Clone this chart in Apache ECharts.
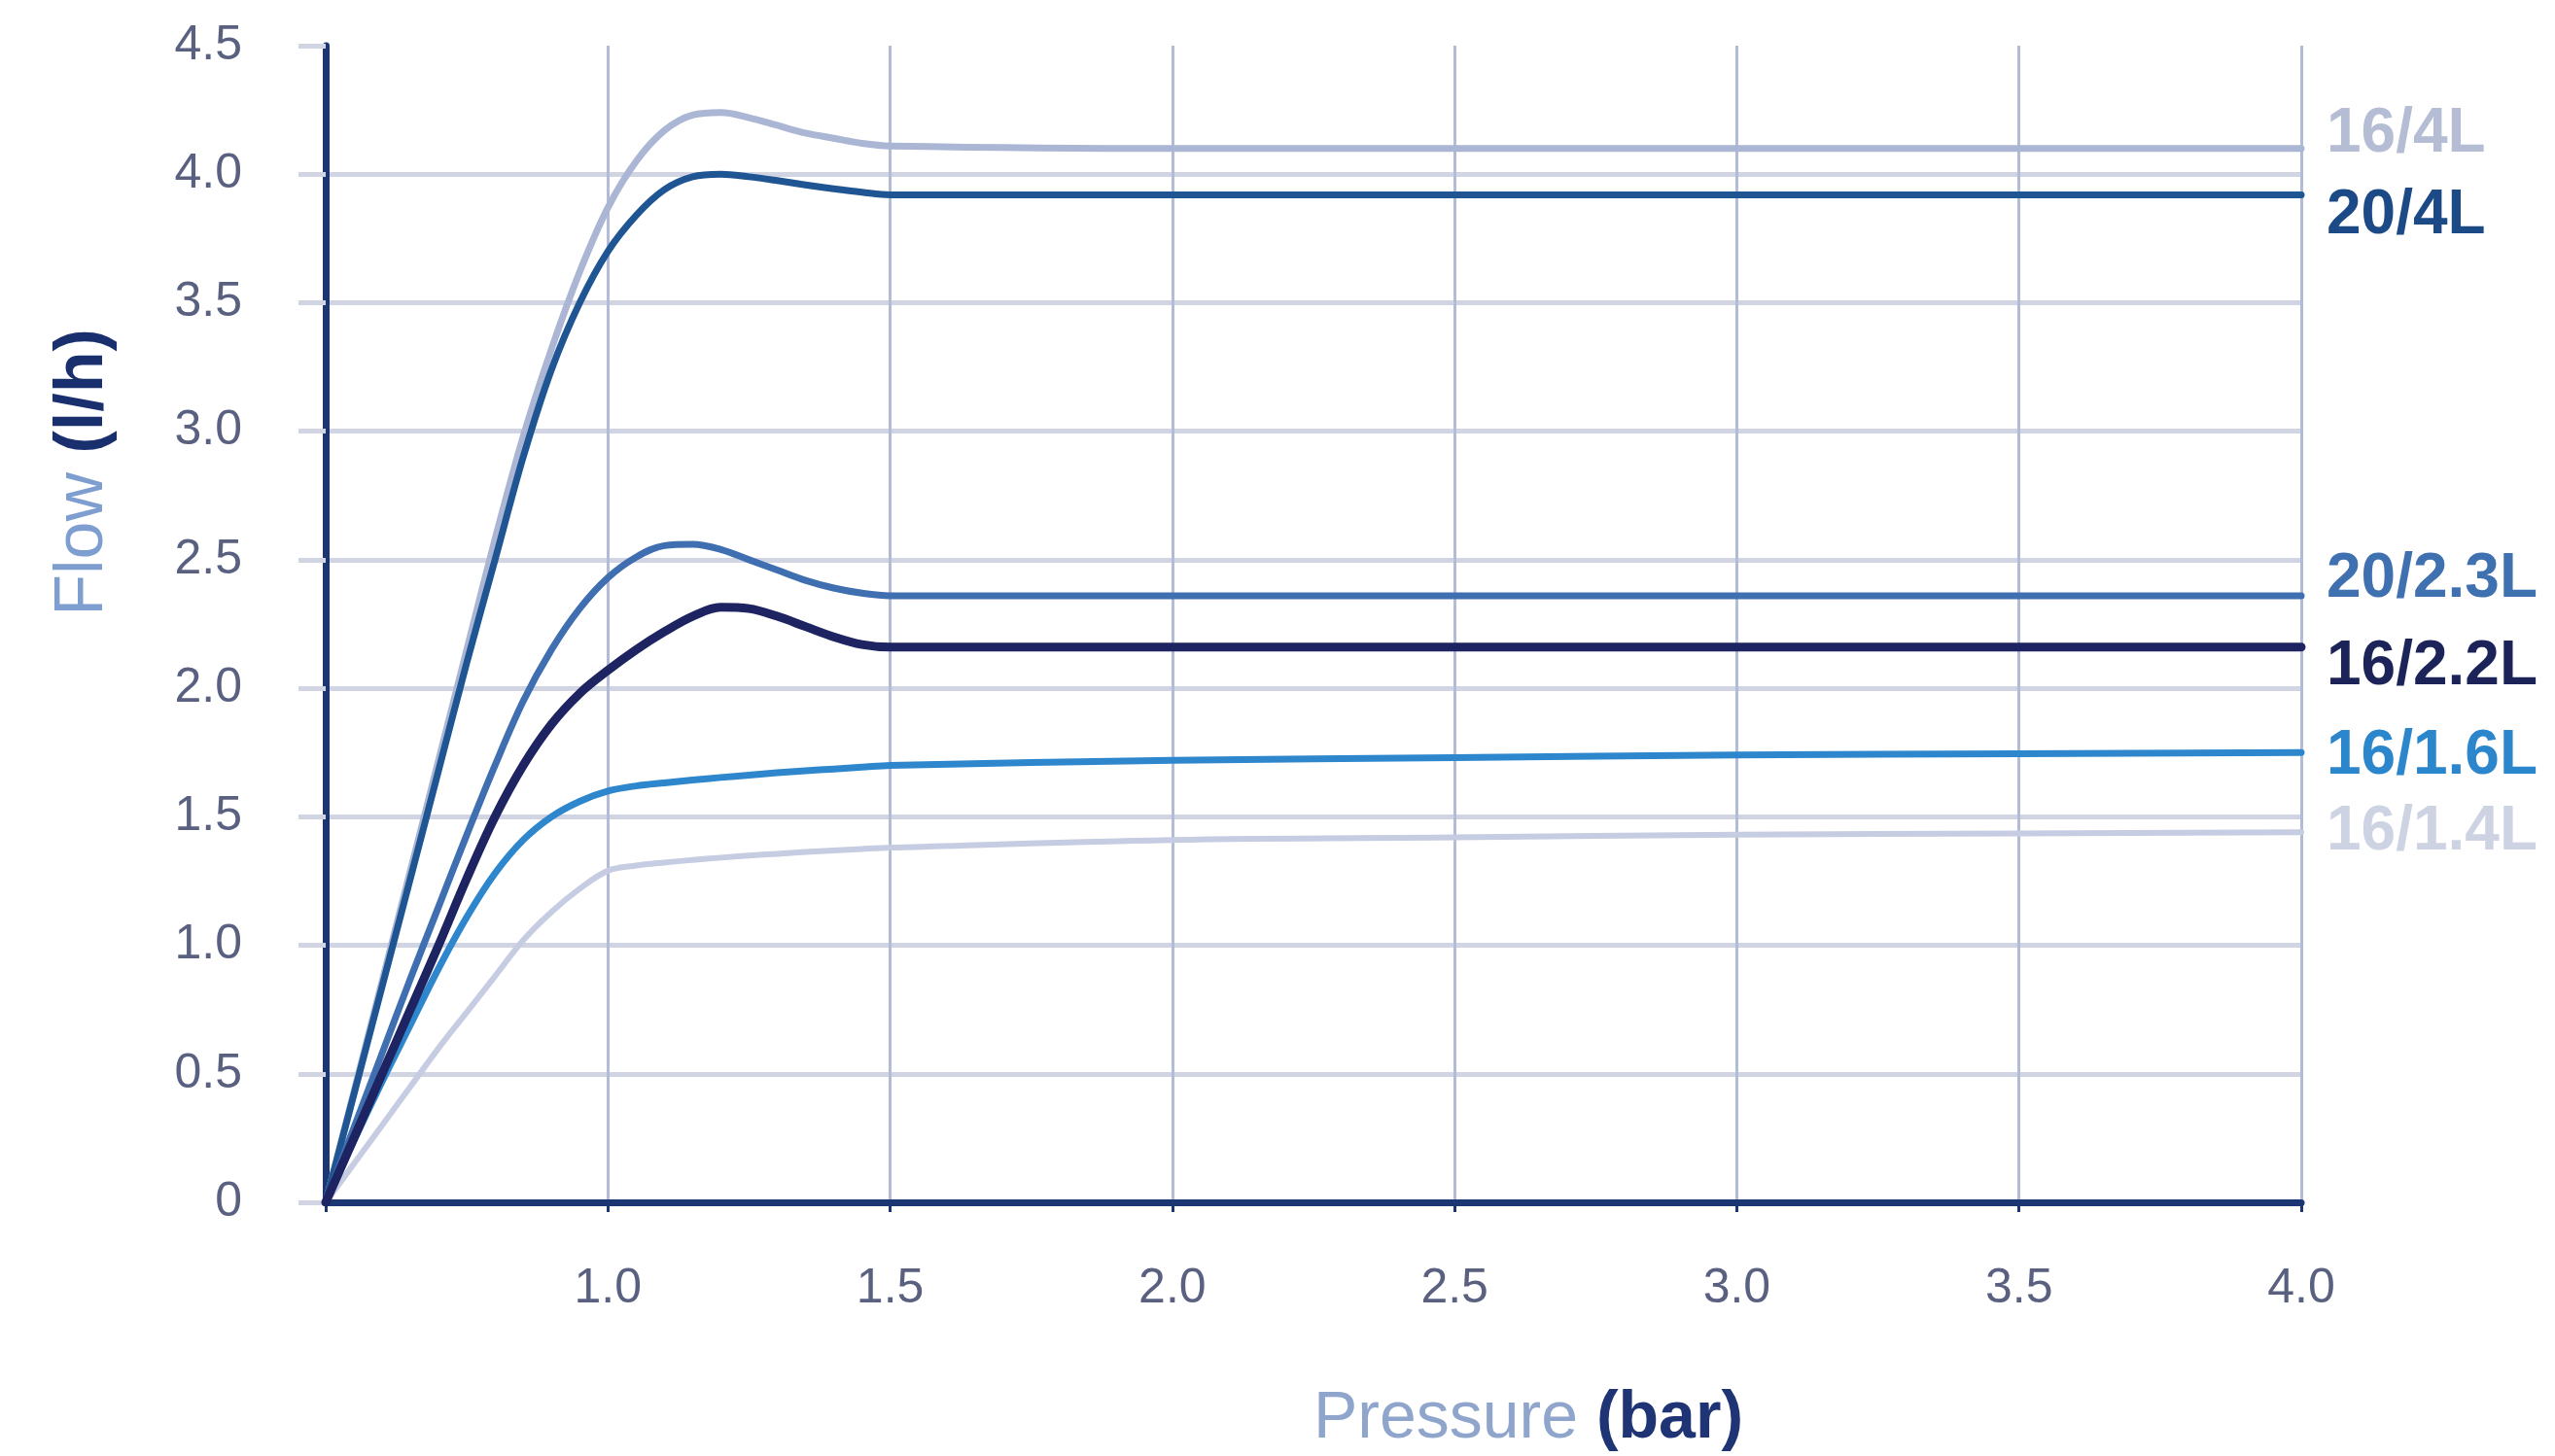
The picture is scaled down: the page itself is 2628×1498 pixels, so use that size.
<!DOCTYPE html>
<html>
<head>
<meta charset="utf-8">
<style>
  html, body { margin: 0; padding: 0; background: #ffffff; }
  #chart { width: 2628px; height: 1498px; }
</style>
<script src="https://cdn.jsdelivr.net/npm/echarts@6/dist/echarts.min.js"></script>
</head>
<body>
<div id="chart"></div>
<script>
// ---- Data (pressure in bar, flow in l/h) ----
const pressure = [0.50, 0.55, 0.60, 0.65, 0.70, 0.75, 0.80, 0.85, 0.90, 0.95, 1.00,
                  1.05, 1.10, 1.15, 1.20, 1.25, 1.30, 1.35, 1.40, 1.45, 1.50,
                  2.0, 2.5, 3.0, 3.5, 4.0];

const flow_16_4L  = [0, 0.43, 0.86, 1.29, 1.72, 2.15, 2.58, 2.98, 3.32, 3.62, 3.87,
                     4.05, 4.17, 4.23, 4.24, 4.22, 4.19, 4.16, 4.14, 4.12, 4.11,
                     4.10, 4.10, 4.10, 4.10, 4.10];
const flow_20_4L  = [0, 0.42, 0.84, 1.26, 1.68, 2.10, 2.50, 2.90, 3.24, 3.50, 3.70,
                     3.84, 3.94, 3.99, 4.00, 3.99, 3.975, 3.958, 3.943, 3.93, 3.92,
                     3.92, 3.92, 3.92, 3.92, 3.92];
const flow_20_23L = [0, 0.29, 0.58, 0.87, 1.15, 1.43, 1.70, 1.95, 2.15, 2.31, 2.43,
                     2.51, 2.555, 2.56, 2.54, 2.50, 2.46, 2.42, 2.39, 2.37, 2.36,
                     2.36, 2.36, 2.36, 2.36, 2.36];
const flow_16_22L = [0, 0.25, 0.50, 0.75, 1.00, 1.26, 1.50, 1.70, 1.86, 1.98, 2.07,
                     2.15, 2.22, 2.28, 2.315, 2.31, 2.28, 2.24, 2.20, 2.17, 2.16,
                     2.16, 2.16, 2.16, 2.16, 2.16];
const flow_16_16L = [0, 0.24, 0.47, 0.69, 0.91, 1.11, 1.28, 1.41, 1.50, 1.56, 1.60,
                     1.62, 1.632, 1.643, 1.653, 1.662, 1.671, 1.679, 1.686, 1.693, 1.70,
                     1.72, 1.73, 1.74, 1.745, 1.75];
const flow_16_14L = [0, 0.15, 0.30, 0.45, 0.60, 0.74, 0.88, 1.02, 1.13, 1.22, 1.29,
                     1.31, 1.322, 1.332, 1.341, 1.349, 1.356, 1.363, 1.369, 1.375, 1.38,
                     1.41, 1.42, 1.43, 1.435, 1.44];

const seriesNames = ['16/1.4L', '16/1.6L', '16/4L', '20/4L', '20/2.3L', '16/2.2L'];
const xTicks = [0.5, 1.0, 1.5, 2.0, 2.5, 3.0, 3.5, 4.0];
const yTicks = [0, 0.5, 1.0, 1.5, 2.0, 2.5, 3.0, 3.5, 4.0, 4.5];

// ---- Styles ----
const FONT = "'Liberation Sans', Arial, sans-serif";
const styleMap = {
  '16/4L':   { values: flow_16_4L,  color: '#aab6d4', width: 7, label: '#b4bdd3', dy: -14 },
  '20/4L':   { values: flow_20_4L,  color: '#1e5592', width: 7, label: '#1c4a86', dy: 22 },
  '20/2.3L': { values: flow_20_23L, color: '#3f6fb0', width: 7, label: '#3f70b0', dy: -17 },
  '16/2.2L': { values: flow_16_22L, color: '#1d2461', width: 9, label: '#1b2358', dy: 21 },
  '16/1.6L': { values: flow_16_16L, color: '#2e87cc', width: 7, label: '#2c86cc', dy: 4 },
  '16/1.4L': { values: flow_16_14L, color: '#c6cce1', width: 6, label: '#cdd3e3', dy: 0 }
};

const series = seriesNames.map(name => {
  const s = styleMap[name];
  return {
    name: name,
    type: 'line',
    data: pressure.map((p, i) => [p, s.values[i]]),
    smooth: 0.35,
    symbol: 'none',
    lineStyle: { color: s.color, width: s.width, cap: 'round', join: 'round' },
    itemStyle: { color: s.color },
    endLabel: {
      show: true,
      formatter: '{a}',
      distance: 26,
      offset: [0, s.dy],
      color: s.label,
      fontSize: 64,
      fontWeight: 'bold',
      fontFamily: FONT
    },
    z: 3
  };
});

const chart = echarts.init(document.getElementById('chart'), null, { renderer: 'canvas' });
chart.setOption({
  animation: false,
  backgroundColor: '#ffffff',
  grid: { left: 335, right: 261, top: 47, bottom: 261, containLabel: false },
  xAxis: {
    type: 'value',
    min: xTicks[0],
    max: xTicks[xTicks.length - 1],
    interval: 0.5,
    axisLine: { show: true, lineStyle: { color: '#1b3673', width: 7 } },
    axisTick: { show: true, length: 10, lineStyle: { color: '#1b3673', width: 3 } },
    axisLabel: {
      margin: 64,
      color: '#5a6180',
      fontSize: 50,
      fontFamily: FONT,
      formatter: v => (v === xTicks[0] ? '' : v.toFixed(1))
    },
    splitLine: { show: true, showMinLine: false, lineStyle: { color: '#b3bcd6', width: 3 } }
  },
  yAxis: {
    type: 'value',
    min: yTicks[0],
    max: yTicks[yTicks.length - 1],
    interval: 0.5,
    axisLine: { show: true, onZero: false, lineStyle: { color: '#1b3673', width: 7 } },
    axisTick: { show: true, length: 28, lineStyle: { color: '#d0d4e3', width: 5 } },
    axisLabel: {
      margin: 86,
      color: '#5a6180',
      fontSize: 50,
      fontFamily: FONT,
      formatter: v => (v === 0 ? '0' : v.toFixed(1))
    },
    splitLine: { show: true, showMaxLine: false, lineStyle: { color: '#d0d4e3', width: 5 } }
  },
  graphic: [
    {
      type: 'text',
      x: 1572, y: 1460,
      style: {
        text: '{a|Pressure }{b|(bar)}',
        align: 'center',
        verticalAlign: 'middle',
        rich: {
          a: { fontSize: 68, fontFamily: FONT, fill: '#8fa5cb' },
          b: { fontSize: 68, fontFamily: FONT, fontWeight: 'bold', fill: '#1e3474' }
        }
      }
    },
    {
      type: 'text',
      x: 86, y: 486,
      rotation: Math.PI / 2,
      style: {
        text: '{a|Flow }{b|(l/h)}',
        align: 'center',
        verticalAlign: 'middle',
        rich: {
          a: { fontSize: 70, fontFamily: FONT, fill: '#7f9ed0' },
          b: { fontSize: 70, fontFamily: FONT, fontWeight: 'bold', fill: '#1a2f6e' }
        }
      }
    }
  ],
  series: series
});
</script>
</body>
</html>
